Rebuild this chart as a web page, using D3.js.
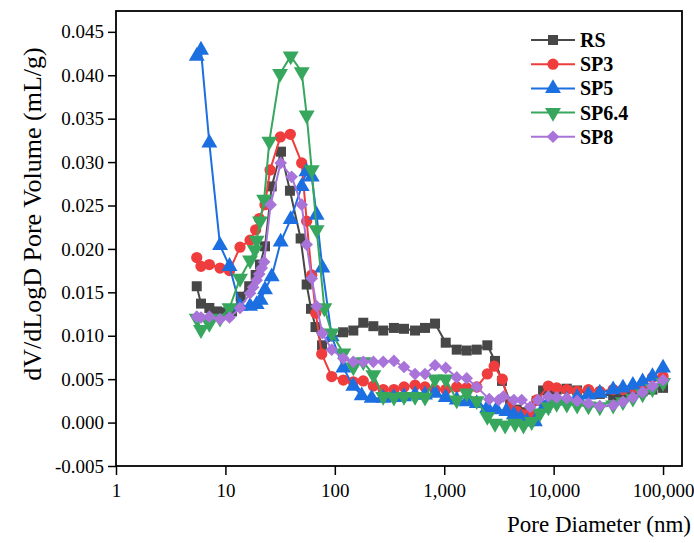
<!DOCTYPE html>
<html>
<head>
<meta charset="utf-8">
<script src="https://cdn.jsdelivr.net/npm/d3@7"></script>
<style>
  body { margin: 0; background: #fff; }
  svg { display: block; font-family: "Liberation Serif", "Times New Roman", serif; }
</style>
</head>
<body>
<div id="container"></div>
<script>
/* DATA: [pore diameter (nm), dV/dlogD (mL/g)] */
const rs = [[5.47,0.0157],[5.98,0.0137],[7.13,0.0132],[8.4,0.0128],[9.8,0.0127],[11.5,0.0128],[13.8,0.0145],[16.5,0.0157],[18.9,0.0170],[20.7,0.0182],[23.0,0.0203],[26.5,0.0272],[32.2,0.0312],[38.9,0.0267],[48.7,0.0212],[55.3,0.0159],[60.6,0.0131],[66.6,0.0110],[76.4,0.0089],[118.8,0.0104],[147.6,0.0106],[182,0.0115],[225,0.0111],[277,0.0106],[347,0.0109],[429,0.0108],[541,0.0106],[667,0.0109],[824,0.0114],[1032,0.0092],[1301,0.0084],[1605,0.0083],[1982,0.0084],[2477,0.0089],[2911,0.0071],[3375,0.0048],[4000,0.0024],[4600,0.0015],[5300,0.0012],[6100,0.0014],[7000,0.0025],[8000,0.0037],[8940,0.0038],[10660,0.0038],[13200,0.0039],[16400,0.0037],[20800,0.0034],[26400,0.0033],[35000,0.0031],[43000,0.0032],[53000,0.0034],[65000,0.0036],[80000,0.0038],[100000,0.0040]];
const sp3 = [[5.47,0.0190],[5.98,0.0180],[7.13,0.0182],[8.93,0.0178],[10.9,0.0175],[13.6,0.0202],[16.8,0.0210],[18.9,0.0222],[20.4,0.0235],[23,0.0251],[25.6,0.0291],[31.8,0.0329],[39.2,0.0332],[49.8,0.0299],[55.3,0.0232],[61.5,0.0170],[67,0.0126],[75.9,0.0079],[93.7,0.0053],[119.6,0.0049],[147.6,0.0047],[182,0.0048],[225,0.0042],[277,0.0038],[347,0.0038],[429,0.0041],[541,0.0043],[667,0.0041],[824,0.0038],[1032,0.0038],[1301,0.0041],[1605,0.0040],[1982,0.0041],[2477,0.0056],[2860,0.0065],[3395,0.0050],[3990,0.0018],[4600,0.0013],[5300,0.0009],[6100,0.0011],[7010,0.0026],[8940,0.0042],[10660,0.0040],[13200,0.0038],[16400,0.0036],[20800,0.0038],[26400,0.0036],[35000,0.0038],[43000,0.0038],[53000,0.0040],[65000,0.0044],[80000,0.0052],[100000,0.0053]];
const sp5 = [[5.47,0.0422],[5.98,0.0429],[7.13,0.0322],[8.93,0.0204],[10.9,0.0180],[13.6,0.0134],[16.8,0.0134],[19.3,0.0136],[21,0.0141],[23,0.0153],[26.5,0.0168],[32,0.0208],[39.5,0.0234],[49.8,0.0272],[55,0.0289],[61.5,0.0283],[68.2,0.0239],[76.9,0.0178],[93.7,0.0099],[119.6,0.0063],[147.6,0.0042],[176,0.0031],[217,0.0028],[277,0.0028],[347,0.0029],[429,0.0030],[541,0.0032],[667,0.0032],[824,0.0034],[1032,0.0029],[1301,0.0026],[1605,0.0024],[1982,0.0022],[2477,0.0017],[3000,0.0015],[3700,0.0013],[4330,0.0009],[5000,0.0005],[5700,0.0001],[6740,0.0001],[8100,0.0017],[8940,0.0023],[10660,0.0025],[13200,0.0026],[16400,0.0029],[20800,0.0032],[26400,0.0034],[35000,0.0038],[43000,0.0040],[53000,0.0043],[65000,0.0047],[80000,0.0053],[100000,0.0063]];
const sp64 = [[5.47,0.0120],[5.98,0.0107],[7.13,0.0114],[8.93,0.0120],[10.9,0.0132],[13.6,0.0166],[16.8,0.0187],[18.6,0.0199],[19.3,0.0210],[20.7,0.0232],[22.6,0.0257],[25.2,0.0324],[31.6,0.0402],[39.5,0.0422],[49.8,0.0404],[55.3,0.0354],[61.5,0.0291],[68.2,0.0222],[80.2,0.0132],[93.7,0.0103],[119.6,0.0080],[147.6,0.0064],[182,0.0070],[225,0.0055],[277,0.0030],[347,0.0029],[429,0.0030],[541,0.0030],[667,0.0029],[824,0.0050],[1032,0.0050],[1301,0.0026],[1605,0.0034],[1982,0.0025],[2477,0.0007],[2911,-0.0001],[3600,-0.0003],[4440,-0.0001],[5300,-0.0003],[6300,0.0001],[7510,0.0011],[8940,0.0018],[10660,0.0022],[13200,0.0021],[16400,0.0020],[20800,0.0019],[26400,0.0018],[35000,0.0020],[43000,0.0024],[53000,0.0028],[65000,0.0033],[80000,0.0039],[100000,0.0046]];
const sp8 = [[5.47,0.0122],[5.98,0.0121],[7.13,0.0122],[8.93,0.0119],[10.9,0.0121],[13.6,0.0132],[16.8,0.0149],[17.9,0.0156],[19.3,0.0164],[20.4,0.0171],[21.5,0.0178],[22.6,0.0185],[25.9,0.0251],[32,0.0299],[40.3,0.0283],[49.8,0.0251],[55.3,0.0205],[61.5,0.0166],[68.2,0.0134],[76.9,0.0103],[93.7,0.0084],[119.6,0.0074],[147.6,0.0070],[182,0.0070],[225,0.0070],[277,0.0070],[347,0.0071],[429,0.0064],[541,0.0056],[667,0.0056],[824,0.0066],[1032,0.0063],[1301,0.0052],[1605,0.0051],[1982,0.0041],[2580,0.0027],[3140,0.0026],[3470,0.0030],[4330,0.0026],[5100,0.0026],[6100,0.0018],[7200,0.0026],[8940,0.0030],[10660,0.0029],[13200,0.0028],[16400,0.0025],[20800,0.0022],[26400,0.0019],[35000,0.0020],[43000,0.0024],[53000,0.0029],[65000,0.0035],[80000,0.0042],[100000,0.0049]];

const seriesNames = ["RS", "SP3", "SP5", "SP6.4", "SP8"];
const seriesData = [rs, sp3, sp5, sp64, sp8];
const colors = ["#474747", "#ef3c3c", "#1b6fe0", "#36a75d", "#a874da"];
const xTicks = [1, 10, 100, 1000, 10000, 100000];
const yTicks = [-0.005, 0, 0.005, 0.010, 0.015, 0.020, 0.025, 0.030, 0.035, 0.040, 0.045];

/* CONSTANTS */
const width = 694, height = 543,
      margin = { top: 11, right: 12, bottom: 77, left: 116 };

const svg = d3.select("#container").append("svg")
  .attr("width", width)
  .attr("height", height);

/* SCALES */
const xScale = d3.scaleLog()
  .domain([1, 149000])
  .range([margin.left, width - margin.right]);

const yScale = d3.scaleLinear()
  .domain([-0.005, 0.0474])
  .range([height - margin.bottom, margin.top]);

/* AXES */
const minorX = [];
for (let p = 0; p < 6; p++) for (let k = 2; k <= 9; k++) {
  const v = k * Math.pow(10, p);
  if (v < 149000) minorX.push(v);
}
const minorY = d3.range(-0.0025, 0.0474, 0.005);

const xAxis = svg.append("g")
  .attr("transform", `translate(0,${height - margin.bottom})`);
xAxis.call(d3.axisBottom(xScale).tickValues(minorX).tickSize(5).tickFormat(""));
xAxis.call(d3.axisBottom(xScale).tickValues(xTicks).tickSize(9).tickPadding(9)
  .tickFormat(d3.format(",")));

const yAxis = svg.append("g")
  .attr("transform", `translate(${margin.left},0)`);
yAxis.call(d3.axisLeft(yScale).tickValues(minorY).tickSize(4).tickFormat(""));
yAxis.call(d3.axisLeft(yScale).tickValues(yTicks).tickSize(8).tickPadding(4)
  .tickFormat(d => d3.format(".3f")(d).replace("\u2212", "-")));

svg.selectAll(".domain").remove();
svg.selectAll(".tick line").attr("stroke", "#000").attr("stroke-width", 1.5);
svg.selectAll(".tick text")
  .attr("fill", "#000")
  .style("font-size", "19px")
  .style("font-family", "'Liberation Serif', serif");

// frame
svg.append("rect")
  .attr("x", margin.left)
  .attr("y", margin.top)
  .attr("width", width - margin.right - margin.left)
  .attr("height", height - margin.bottom - margin.top)
  .attr("fill", "none")
  .attr("stroke", "#000")
  .attr("stroke-width", 1.8);

/* AXIS LABELS */
svg.append("text")
  .attr("x", width - 3)
  .attr("y", 532)
  .attr("text-anchor", "end")
  .style("font-size", "23px")
  .text("Pore Diameter (nm)");

svg.append("text")
  .attr("transform", "translate(41,214) rotate(-90)")
  .attr("text-anchor", "middle")
  .style("font-size", "26px")
  .text("dV/dLogD Pore Volume (mL/g)");

/* MARKERS */
const symbols = [
  { type: d3.symbolSquare, size: 100, rot: 0 },
  { type: d3.symbolCircle, size: 100, rot: 0 },
  { type: d3.symbolTriangle, size: 110, rot: 0 },
  { type: d3.symbolTriangle, size: 110, rot: 180 },
  { type: d3.symbolSquare, size: 80, rot: 45 }
];

const line = d3.line()
  .x(d => xScale(d[0]))
  .y(d => yScale(d[1]));

const plot = svg.append("g");

seriesData.forEach((data, i) => {
  const g = plot.append("g");
  g.append("path")
    .datum(data)
    .attr("fill", "none")
    .attr("stroke", colors[i])
    .attr("stroke-width", 2)
    .attr("d", line);
  g.selectAll("path.mk")
    .data(data)
    .enter()
    .append("path")
      .attr("class", "mk")
      .attr("d", d3.symbol().type(symbols[i].type).size(symbols[i].size))
      .attr("transform", d => `translate(${xScale(d[0])},${yScale(d[1])}) rotate(${symbols[i].rot})`)
      .attr("fill", colors[i]);
});

/* LEGEND */
const legend = svg.append("g").attr("transform", "translate(531,40)");
seriesNames.forEach((name, i) => {
  const row = legend.append("g").attr("transform", `translate(0,${i * 24.2})`);
  row.append("line")
    .attr("x1", 0).attr("x2", 44)
    .attr("stroke", colors[i])
    .attr("stroke-width", 2);
  row.append("path")
    .attr("d", d3.symbol().type(symbols[i].type).size(symbols[i].size))
    .attr("transform", `translate(22,0) rotate(${symbols[i].rot})`)
    .attr("fill", colors[i]);
  row.append("text")
    .attr("x", 49)
    .attr("y", 7)
    .style("font-size", "20px")
    .style("font-weight", "bold")
    .text(name);
});
</script>
</body>
</html>
